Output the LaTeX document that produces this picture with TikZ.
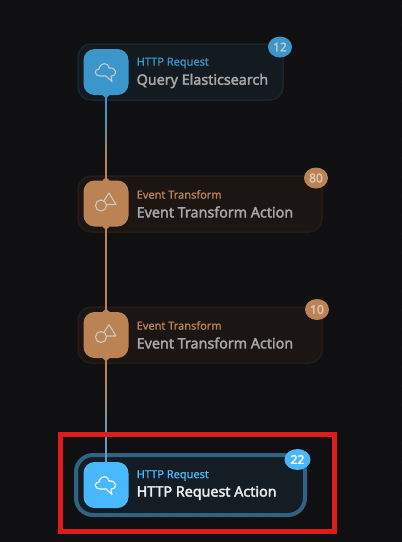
\documentclass[tikz,border=0pt]{standalone}
\usepackage{fontspec}
\setmainfont{Noto Sans}
\newfontfamily\titlefont[FakeBold=2.4]{Noto Sans}
\newfontfamily\kindfont[FakeBold=0.9]{Noto Sans}
\usetikzlibrary{calc,shapes.geometric}
\definecolor{bg}{HTML}{101012}
\definecolor{griddot}{HTML}{1C1C1E}
\definecolor{blueA}{HTML}{3B96CB}
\definecolor{orangeA}{HTML}{BB8354}
\definecolor{blueB}{HTML}{4AB8FF}
\definecolor{wireblue}{HTML}{5A9CC8}
\definecolor{bodyblue}{HTML}{141B20}
\definecolor{edgeblue}{HTML}{1A252C}
\definecolor{bodyorange}{HTML}{1B1614}
\definecolor{edgeorange}{HTML}{241D17}
\definecolor{bodyact}{HTML}{151D24}
\definecolor{ringact}{HTML}{2F6283}
\definecolor{titledim}{HTML}{A6A6A6}
\definecolor{titleact}{HTML}{ECECEC}
\definecolor{icondim}{HTML}{C9C9C9}
\definecolor{badgetxt}{HTML}{DCC8B4}
\definecolor{alertred}{HTML}{E01B1B}
\tikzset{
  x=1pt,y=-1pt,
  body/.style={rectangle,rounded corners=13pt,inner sep=0pt,minimum height=56pt,line width=1.5pt},
  iconbox/.style={rectangle,rounded corners=11pt,inner sep=0pt,minimum width=45pt,minimum height=46pt,fill=#1},
  kind/.style={anchor=west,inner sep=0pt,font=\kindfont\fontsize{11}{13}\selectfont,text=#1},
  title/.style={anchor=west,inner sep=0pt,font=\titlefont\fontsize{14.3}{17}\selectfont,text=#1},
  badge/.style={ellipse,inner sep=0pt,minimum width=24pt,minimum height=21pt,fill=#1,font=\titlefont\fontsize{12}{14}\selectfont},
  glyph/.style={draw=#1,line width=1.1pt,line join=round},
}
\newcommand{\cloudglyph}[2]{%
  \draw[glyph=#2] ($(#1)+(-6,4)$) .. controls ($(#1)+(-12,4)$) and ($(#1)+(-12,-3)$) .. ($(#1)+(-7,-3)$)
    .. controls ($(#1)+(-6,-10)$) and ($(#1)+(3,-10)$) .. ($(#1)+(3,-4)$)
    .. controls ($(#1)+(11,-5)$) and ($(#1)+(12,4)$) .. ($(#1)+(5,4)$)
    -- ($(#1)+(6,9.5)$) -- ($(#1)+(0,4)$) -- cycle;}
\newcommand{\shapeglyph}[2]{%
  \draw[glyph=#2] ($(#1)+(-5,2)$) circle[radius=5.5pt];
  \draw[glyph=#2] ($(#1)+(-2.5,-2)$) -- ($(#1)+(3,-10.5)$) -- ($(#1)+(10,1)$) -- ($(#1)+(0.5,1)$);}
\newcommand{\wire}[4]{%
  \foreach \t in {0,...,99}{
    \pgfmathtruncatemacro{\m}{min(100,max(0,(\t-20)*100/60))}
    \pgfmathtruncatemacro{\u}{\t+1}
    \colorlet{wirecol}{#4!\m!#3}
    \draw[wirecol,line width=1.9pt,line cap=rect] ($(#1.south)!\t/100!(#2.north)$) -- ($(#1.south)!\u/100!(#2.north)$);
  }}
\newcommand{\flare}[3]{\fill[#3] ($(#1)+(-3.5,0)$) -- ($(#1)+(0,#2*3)$) -- ($(#1)+(3.5,0)$) -- ($(#1)+(0,-#2*2)$) -- cycle;}
\begin{document}
\begin{tikzpicture}
\useasboundingbox (0,0) rectangle (402,542);
\fill[bg] (0,0) rectangle (402,542);
\foreach \gx in {3,22,...,402}{\foreach \gy in {6,25,...,542}{\fill[griddot] (\gx,\gy) circle[radius=.6pt];}}

% bodies
\node[body,minimum width=205pt,fill=bodyblue,draw=edgeblue] (n1) at (180.5,72) {};
\node[body,minimum width=244pt,fill=bodyorange,draw=edgeorange] (n2) at (200,204) {};
\node[body,minimum width=244pt,fill=bodyorange,draw=edgeorange] (n3) at (200,335) {};
\node[rectangle,rounded corners=17pt,inner sep=0pt,minimum width=229pt,minimum height=60pt,fill=bodyact,draw=ringact,line width=4pt] (n4) at (190.5,485) {};

% icons
\node[iconbox=blueA] (i1) at (106,72) {};
\node[iconbox=orangeA] (i2) at (106,203.5) {};
\node[iconbox=orangeA] (i3) at (106,335) {};
\node[iconbox=blueB] (i4) at (106,485) {};

% connectors
\wire{i1}{i2}{blueA}{orangeA}
\wire{i2}{i3}{orangeA}{orangeA}
\wire{i3}{i4}{orangeA}{wireblue}
\flare{i1.south}{1}{blueA}
\flare{i2.north}{-1}{orangeA}
\flare{i2.south}{1}{orangeA}
\flare{i3.north}{-1}{orangeA}
\flare{i3.south}{1}{orangeA}

% glyphs
\cloudglyph{i1.center}{icondim}
\shapeglyph{i2.center}{icondim}
\shapeglyph{i3.center}{icondim}
\cloudglyph{i4.center}{white}

% texts
\node[kind=blueA] (k1) at (136.5,63) {HTTP Request};
\node[title=titledim] (t1) at (136.5,81) {Query Elasticsearch};
\node[kind=orangeA] (k2) at (136.5,194.5) {Event Transform};
\node[title=titledim] (t2) at (136.5,212) {Event Transform Action};
\node[kind=orangeA] (k3) at (136.5,325.5) {Event Transform};
\node[title=titledim] (t3) at (136.5,343) {Event Transform Action};
\node[kind=blueB] (k4) at (136.5,475.5) {HTTP Request};
\node[title=titleact] (t4) at (136.5,493) {HTTP Request Action};

% badges
\node[badge=blueA,text=icondim] (b1) at (280,47) {12};
\node[badge=orangeA,text=badgetxt] (b2) at (316,178) {80};
\node[badge=orangeA,text=badgetxt] (b3) at (317,309.5) {10};
\node[badge=blueB,text=white,minimum width=26pt] (b4) at (297.5,459.5) {22};

% alert frame
\node[rectangle,draw=alertred,line width=5pt,inner sep=0pt,minimum width=274pt,minimum height=97pt] (frame) at (197.5,483) {};
\end{tikzpicture}
\end{document}
